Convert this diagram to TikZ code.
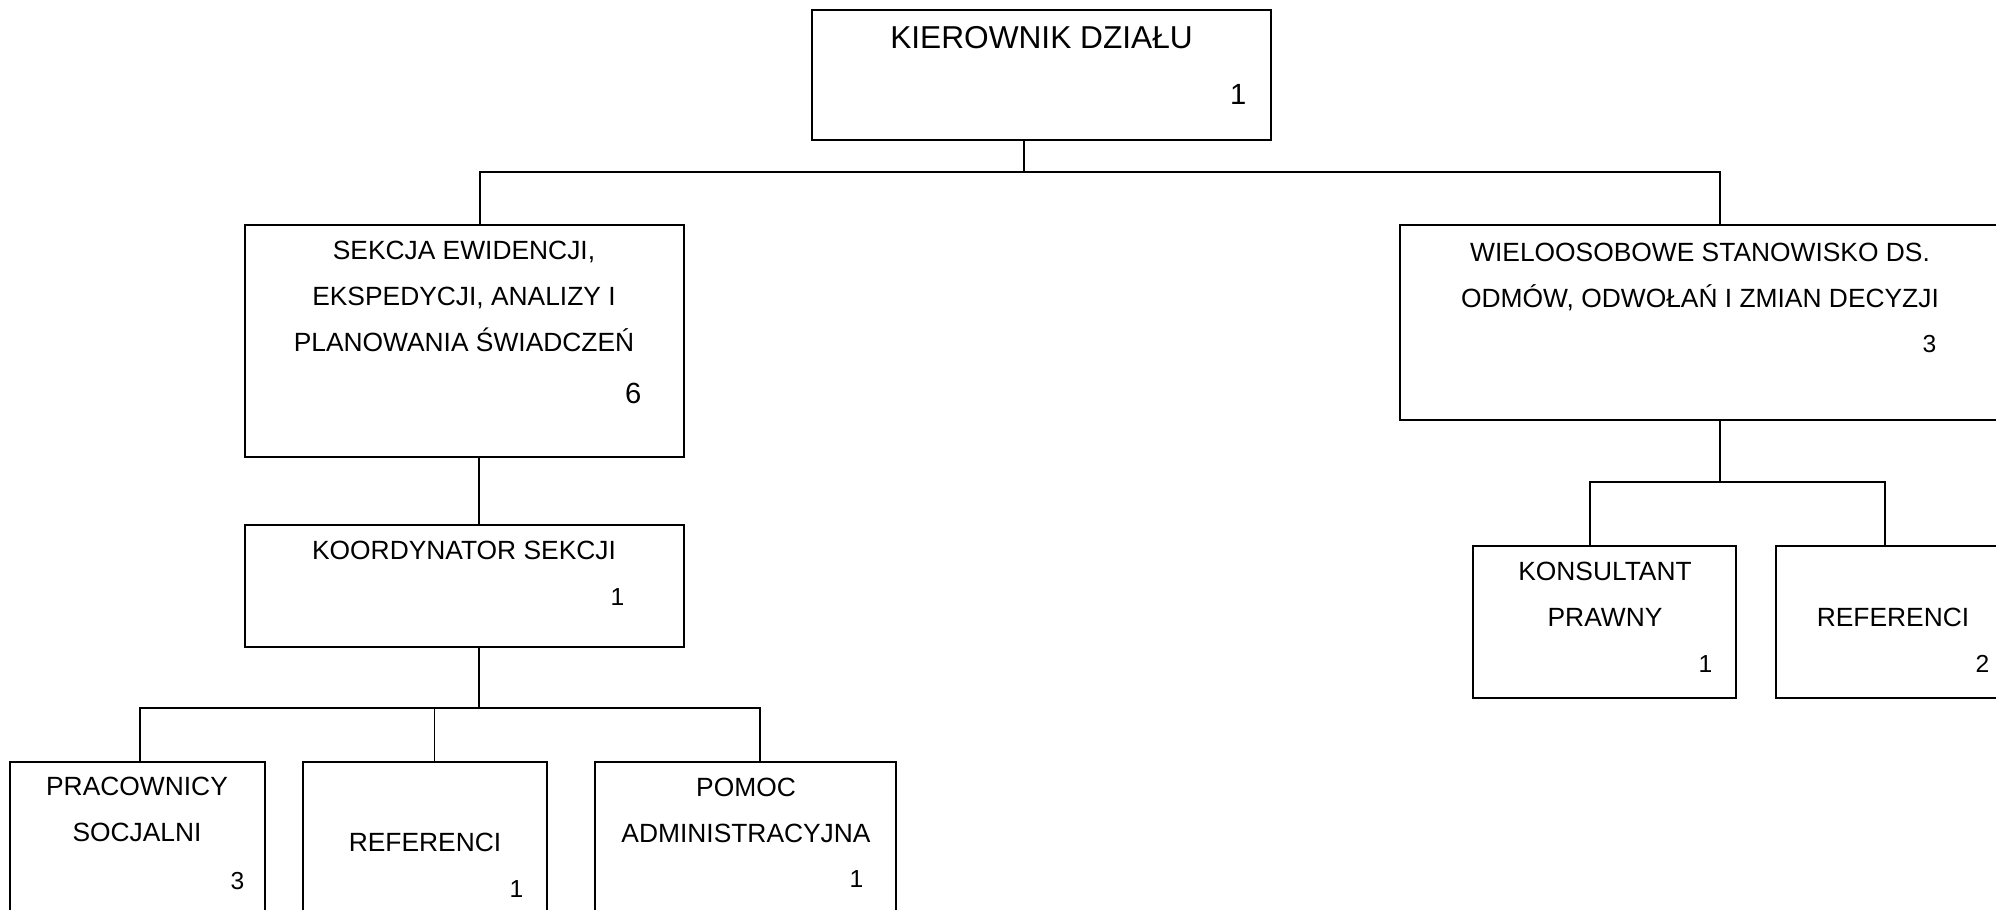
\documentclass[tikz,border=0pt]{standalone}
\usepackage{fontspec}
\setmainfont{Liberation Sans}
\usetikzlibrary{fit}
\tikzset{
  unit/.style={draw, rectangle, inner sep=0pt, line width=0.55pt},
  title/.style={anchor=base, align=center, inner sep=0pt, font=\fontsize{7.5}{13.1}\selectfont},
  count/.style={anchor=base east, inner sep=0pt, font=\fontsize{7}{8}\selectfont},
  link/.style={line width=0.55pt}
}
\begin{document}
\begin{tikzpicture}[x=0.01cm, y=-0.01cm]
		\clip (0,0) rectangle (1996,910);
		% box corners
		\path (812,10) coordinate (kier_nw);
		\path (1271,140) coordinate (kier_se);
		\path (245,225) coordinate (sekcja_nw);
		\path (684,457) coordinate (sekcja_se);
		\path (1400,225) coordinate (wielo_nw);
		\path (2030,420) coordinate (wielo_se);
		\path (245,525) coordinate (koord_nw);
		\path (684,647) coordinate (koord_se);
		\path (1473,546) coordinate (kons_nw);
		\path (1736,698) coordinate (kons_se);
		\path (1776,546) coordinate (refr_nw);
		\path (2030,698) coordinate (refr_se);
		\path (10,762) coordinate (prac_nw);
		\path (265,940) coordinate (prac_se);
		\path (303,762) coordinate (refm_nw);
		\path (547,940) coordinate (refm_se);
		\path (595,762) coordinate (pomoc_nw);
		\path (896,940) coordinate (pomoc_se);
		% bus points
		\path (1024,172) coordinate (bus0);
		\path (480,172) coordinate (bus0_l);
		\path (1720,172) coordinate (bus0_r);
		\path (479,708) coordinate (bus1);
		\path (140,708) coordinate (bus1_l);
		\path (434.5,708) coordinate (bus1_m);
		\path (760,708) coordinate (bus1_r);
		\path (1720,482) coordinate (bus2);
		\path (1590,482) coordinate (bus2_l);
		\path (1885,482) coordinate (bus2_r);

		\path node(kier) [unit, fit=(kier_nw)(kier_se)] {};
		\path node(sekcja) [unit, fit=(sekcja_nw)(sekcja_se)] {};
		\path node(wielo) [unit, fit=(wielo_nw)(wielo_se)] {};
		\path node(koord) [unit, fit=(koord_nw)(koord_se)] {};
		\path node(kons) [unit, fit=(kons_nw)(kons_se)] {};
		\path node(refr) [unit, fit=(refr_nw)(refr_se)] {};
		\path node(prac) [unit, fit=(prac_nw)(prac_se)] {};
		\path node(refm) [unit, fit=(refm_nw)(refm_se)] {};
		\path node(pomoc) [unit, fit=(pomoc_nw)(pomoc_se)] {};

		% titles sit on the baseline of their last line
		\path (1041.5,49) node(kier_t) [title, font=\fontsize{9}{12}\selectfont] {KIEROWNIK DZIAŁU};
		\path (1247,105) node(kier_n) [count, font=\fontsize{8.3}{10}\selectfont] {1};
		\path (464,352) node(sekcja_t) [title] {SEKCJA EWIDENCJI,\\EKSPEDYCJI, ANALIZY I\\PLANOWANIA ŚWIADCZEŃ};
		\path (642,404) node(sekcja_n) [count, font=\fontsize{8.3}{10}\selectfont] {6};
		\path (1700,308) node(wielo_t) [title] {WIELOOSOBOWE STANOWISKO DS.\\ODMÓW, ODWOŁAŃ I ZMIAN DECYZJI};
		\path (1937,353) node(wielo_n) [count] {3};
		\path (464,560) node(koord_t) [title] {KOORDYNATOR SEKCJI};
		\path (625,606) node(koord_n) [count] {1};
		\path (1605,627) node(kons_t) [title] {KONSULTANT\\PRAWNY};
		\path (1713,673) node(kons_n) [count] {1};
		\path (1893,627) node(refr_t) [title] {REFERENCI};
		\path (1990,673) node(refr_n) [count] {2};
		\path (137,842) node(prac_t) [title] {PRACOWNICY\\SOCJALNI};
		\path (245,890) node(prac_n) [count] {3};
		\path (425,852) node(refm_t) [title] {REFERENCI};
		\path (524,898) node(refm_n) [count] {1};
		\path (746,843) node(pomoc_t) [title] {POMOC\\ADMINISTRACYJNA};
		\path (864,888) node(pomoc_n) [count] {1};

		\draw[link] (kier.south -| bus0) -- (bus0);
		\draw[link] (sekcja.north -| bus0_l) |- (bus0_r) -- (wielo.north -| bus0_r);
		\draw[link] (sekcja.south -| bus1) -- (koord.north -| bus1);
		\draw[link] (koord.south -| bus1) -- (bus1);
		\draw[link] (prac.north -| bus1_l) |- (bus1_r) -- (pomoc.north -| bus1_r);
		\draw[link] (bus1_m) -- (refm.north -| bus1_m);
		\draw[link] (wielo.south -| bus2) -- (bus2);
		\draw[link] (kons.north -| bus2_l) |- (bus2_r) -- (refr.north -| bus2_r);
	\end{tikzpicture}
\end{document}
